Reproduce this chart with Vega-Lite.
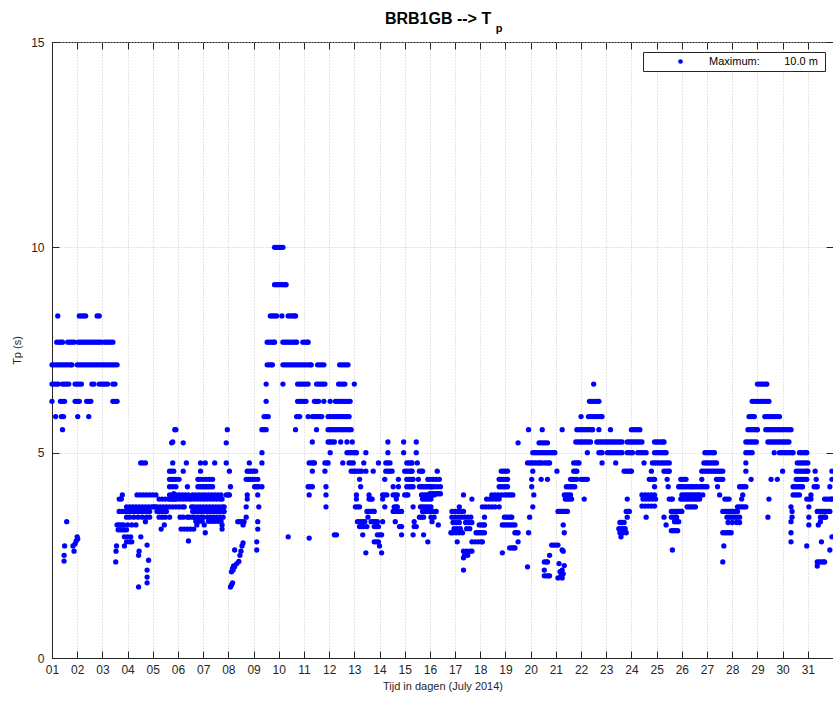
{
"$schema": "https://vega.github.io/schema/vega-lite/v6.json",
"width": 781, "height": 616,
"autosize": {"type": "none"},
"padding": {"left": 52, "top": 42, "right": 0, "bottom": 44},
"background": "white",
"config": {"view": {"stroke": "#262626", "strokeWidth": 1}, "font": "Liberation Sans"},
"title": {"text": "BRB1GB --> T\u00a0\u00a0\u200b", "subtitle": "\u200b\u00a0\u00a0\u00a0\u00a0\u00a0\u00a0\u00a0\u00a0\u00a0\u00a0\u00a0\u00a0\u00a0\u00a0\u00a0\u00a0\u00a0\u00a0\u00a0\u00a0\u00a0\u00a0\u00a0\u00a0\u00a0\u00a0\u00a0\u00a0\u00a0\u00a0\u00a0\u00a0\u00a0\u00a0\u00a0\u00a0\u00a0p", "font": "Liberation Sans", "fontSize": 16, "fontWeight": "bold", "color": "black", "subtitleFont": "Liberation Sans", "subtitleFontSize": 11, "subtitleFontWeight": "bold", "subtitleColor": "black", "subtitlePadding": -4, "offset": 2, "anchor": "middle"},
"data": {"values": [
{"h":5.5,"t":8.33},{"h":26,"t":8.33},{"h":28,"t":8.33},{"h":30,"t":8.33},{"h":32,"t":8.33},{"h":43,"t":8.33},{"h":45,"t":8.33},
{"h":4.5,"t":7.69},{"h":6.5,"t":7.69},{"h":8.5,"t":7.69},{"h":10,"t":7.69},{"h":15,"t":7.69},{"h":17,"t":7.69},{"h":19,"t":7.69},{"h":21,"t":7.69},{"h":25,"t":7.69},{"h":27,"t":7.69},{"h":29,"t":7.69},{"h":31,"t":7.69},{"h":33,"t":7.69},{"h":35,"t":7.69},{"h":37,"t":7.69},{"h":39,"t":7.69},{"h":41,"t":7.69},{"h":43,"t":7.69},{"h":45,"t":7.69},{"h":47,"t":7.69},{"h":50,"t":7.69},{"h":52,"t":7.69},{"h":54,"t":7.69},{"h":56,"t":7.69},{"h":58,"t":7.69},
{"h":0,"t":7.14},{"h":2,"t":7.14},{"h":4,"t":7.14},{"h":6,"t":7.14},{"h":8,"t":7.14},{"h":10,"t":7.14},{"h":12,"t":7.14},{"h":14,"t":7.14},{"h":16,"t":7.14},{"h":18,"t":7.14},{"h":19,"t":7.14},{"h":24,"t":7.14},{"h":26,"t":7.14},{"h":28,"t":7.14},{"h":30,"t":7.14},{"h":32,"t":7.14},{"h":34,"t":7.14},{"h":36,"t":7.14},{"h":38,"t":7.14},{"h":40,"t":7.14},{"h":42,"t":7.14},{"h":44,"t":7.14},{"h":46,"t":7.14},{"h":48,"t":7.14},{"h":50,"t":7.14},{"h":52,"t":7.14},{"h":54,"t":7.14},{"h":56,"t":7.14},{"h":58,"t":7.14},{"h":60,"t":7.14},{"h":62,"t":7.14},
{"h":0,"t":6.67},{"h":2,"t":6.67},{"h":4,"t":6.67},{"h":6,"t":6.67},{"h":10,"t":6.67},{"h":12,"t":6.67},{"h":14,"t":6.67},{"h":16,"t":6.67},{"h":22,"t":6.67},{"h":24,"t":6.67},{"h":26,"t":6.67},{"h":28,"t":6.67},{"h":38,"t":6.67},{"h":40,"t":6.67},{"h":45,"t":6.67},{"h":47,"t":6.67},{"h":49,"t":6.67},{"h":51,"t":6.67},{"h":53,"t":6.67},{"h":58,"t":6.67},{"h":60,"t":6.67},
{"h":0,"t":6.25},{"h":8,"t":6.25},{"h":10,"t":6.25},{"h":12,"t":6.25},{"h":22,"t":6.25},{"h":24,"t":6.25},{"h":26,"t":6.25},{"h":33,"t":6.25},{"h":35,"t":6.25},{"h":37,"t":6.25},{"h":58,"t":6.25},{"h":60,"t":6.25},{"h":62,"t":6.25},
{"h":3.5,"t":5.88},{"h":9,"t":5.88},{"h":11,"t":5.88},{"h":24.5,"t":5.88},{"h":35,"t":5.88},{"h":10,"t":5.56},
{"h":11.5,"t":2.36},{"h":11.5,"t":2.5},{"h":12,"t":2.73},{"h":14,"t":3.32},{"h":20,"t":2.73},{"h":21,"t":2.6},{"h":22,"t":2.78},{"h":23,"t":2.85},{"h":24,"t":2.95},{"h":24.5,"t":2.9},
{"h":60.7,"t":2.34},{"h":61,"t":2.6},{"h":61.5,"t":2.73},
{"h":62,"t":3.24},{"h":64,"t":3.24},{"h":66,"t":3.24},{"h":68,"t":3.24},{"h":72,"t":3.24},{"h":76,"t":3.24},{"h":80,"t":3.24},
{"h":63,"t":3.12},{"h":65,"t":3.12},{"h":67,"t":3.12},{"h":69,"t":3.12},{"h":71,"t":3.12},
{"h":64,"t":3.87},{"h":66,"t":3.87},
{"h":67,"t":3.97},{"h":81,"t":3.97},{"h":84,"t":3.97},{"h":87,"t":3.97},{"h":90,"t":3.97},{"h":93,"t":3.97},{"h":96,"t":3.97},{"h":99,"t":3.97},
{"h":64,"t":3.57},{"h":67,"t":3.57},{"h":70,"t":3.57},{"h":73,"t":3.57},{"h":76,"t":3.57},{"h":79,"t":3.57},{"h":82,"t":3.57},{"h":85,"t":3.57},{"h":88,"t":3.57},{"h":91,"t":3.57},{"h":93,"t":3.57},
{"h":71,"t":3.68},{"h":74,"t":3.68},{"h":77,"t":3.68},{"h":80,"t":3.68},{"h":83,"t":3.68},{"h":86,"t":3.68},{"h":89,"t":3.68},{"h":92,"t":3.68},{"h":95,"t":3.68},{"h":98,"t":3.68},
{"h":71,"t":3.43},{"h":74,"t":3.43},{"h":78,"t":3.43},{"h":82,"t":3.43},{"h":86,"t":3.43},{"h":90,"t":3.43},{"h":93,"t":3.43},
{"h":69,"t":2.95},{"h":72,"t":2.95},{"h":75,"t":2.95},{"h":84.6,"t":2.95},{"h":71,"t":2.83},{"h":74,"t":2.83},{"h":76,"t":2.83},{"h":69,"t":2.73},
{"h":83,"t":2.6},{"h":82.5,"t":2.5},{"h":82.5,"t":1.73},
{"h":84.5,"t":4.75},{"h":86.5,"t":4.75},{"h":89,"t":4.75},
{"h":89,"t":3.32},{"h":90.6,"t":2.75},{"h":92,"t":2.38},{"h":90.6,"t":2.14},{"h":90.6,"t":1.97},{"h":90.6,"t":1.83},
{"h":102,"t":3.87},{"h":105,"t":3.87},{"h":108,"t":3.87},{"h":111,"t":3.87},{"h":114,"t":3.87},{"h":117,"t":3.87},
{"h":97,"t":3.68},{"h":100,"t":3.68},{"h":103,"t":3.68},{"h":106,"t":3.68},{"h":109,"t":3.68},{"h":112,"t":3.68},{"h":115,"t":3.68},
{"h":100,"t":3.57},{"h":103,"t":3.57},{"h":106,"t":3.57},{"h":109,"t":3.57},
{"h":102,"t":3.43},{"h":105,"t":3.43},{"h":108,"t":3.43},
{"h":107,"t":3.24},{"h":104,"t":3.14},
{"h":112,"t":4.55},{"h":114,"t":4.55},{"h":116,"t":4.55},{"h":112,"t":4.35},{"h":114,"t":4.35},{"h":116,"t":4.35},
{"h":115,"t":4.17},{"h":116,"t":4.0},{"h":115,"t":4.75},{"h":115,"t":5.26},{"h":117,"t":5.56},
{"h":118,"t":5.56},{"h":114,"t":5.24},{"h":125,"t":5.24},{"h":128,"t":4.75},{"h":125,"t":4.55},
{"h":118,"t":4.35},{"h":121,"t":4.35},
{"h":112,"t":4.17},{"h":118,"t":4.17},{"h":129,"t":4.17},
{"h":112,"t":3.97},{"h":115,"t":3.97},{"h":118,"t":3.97},{"h":121,"t":3.97},{"h":124,"t":3.97},{"h":127,"t":3.97},{"h":130,"t":3.97},
{"h":113,"t":3.87},{"h":116,"t":3.87},{"h":119,"t":3.87},{"h":122,"t":3.87},{"h":125,"t":3.87},{"h":128,"t":3.87},{"h":131,"t":3.87},
{"h":118,"t":3.68},{"h":121,"t":3.68},{"h":124,"t":3.68},{"h":126,"t":3.68},
{"h":112,"t":3.43},{"h":122,"t":3.43},{"h":125,"t":3.43},{"h":129,"t":3.43},{"h":131,"t":3.43},{"h":134,"t":3.43},
{"h":123,"t":3.14},{"h":126,"t":3.14},{"h":129,"t":3.14},{"h":132,"t":3.14},{"h":135,"t":3.14},{"h":130,"t":2.85},
{"h":141.5,"t":4.75},{"h":146,"t":4.75},{"h":155,"t":4.75},{"h":141.5,"t":4.55},
{"h":139,"t":4.35},{"h":141,"t":4.35},{"h":144,"t":4.35},{"h":147,"t":4.35},{"h":150,"t":4.35},{"h":153,"t":4.35},
{"h":139,"t":4.17},{"h":141,"t":4.17},{"h":143,"t":4.17},{"h":145,"t":4.17},{"h":147,"t":4.17},{"h":149,"t":4.17},{"h":151,"t":4.17},{"h":153,"t":4.17},
{"h":134,"t":3.97},{"h":137,"t":3.97},{"h":140,"t":3.97},{"h":143,"t":3.97},{"h":146,"t":3.97},{"h":149,"t":3.97},{"h":152,"t":3.97},{"h":155,"t":3.97},{"h":158,"t":3.97},{"h":161,"t":3.97},
{"h":133,"t":3.87},{"h":136,"t":3.87},{"h":139,"t":3.87},{"h":142,"t":3.87},{"h":145,"t":3.87},{"h":148,"t":3.87},{"h":151,"t":3.87},{"h":154,"t":3.87},{"h":157,"t":3.87},{"h":160,"t":3.87},{"h":162,"t":3.87},
{"h":133,"t":3.68},{"h":135,"t":3.68},{"h":138,"t":3.68},{"h":141,"t":3.68},{"h":144,"t":3.68},{"h":147,"t":3.68},{"h":150,"t":3.68},{"h":153,"t":3.68},{"h":156,"t":3.68},{"h":159,"t":3.68},{"h":162,"t":3.68},{"h":164,"t":3.68},
{"h":134,"t":3.57},{"h":137,"t":3.57},{"h":140,"t":3.57},{"h":143,"t":3.57},{"h":146,"t":3.57},{"h":149,"t":3.57},{"h":152,"t":3.57},{"h":155,"t":3.57},{"h":158,"t":3.57},{"h":161,"t":3.57},{"h":164,"t":3.57},
{"h":136,"t":3.43},{"h":139,"t":3.43},{"h":142,"t":3.43},{"h":144,"t":3.43},{"h":148,"t":3.43},{"h":151,"t":3.43},{"h":154,"t":3.43},{"h":157,"t":3.43},{"h":160,"t":3.43},{"h":163,"t":3.43},
{"h":137,"t":3.33},{"h":140,"t":3.33},{"h":143,"t":3.33},{"h":149,"t":3.33},{"h":152,"t":3.33},{"h":155,"t":3.33},{"h":158,"t":3.33},{"h":161,"t":3.33},
{"h":138,"t":3.24},{"h":145,"t":3.24},{"h":162,"t":3.24},{"h":162,"t":3.14},{"h":146,"t":3.05},
{"h":167,"t":5.56},{"h":166,"t":5.24},{"h":166,"t":4.75},{"h":169,"t":4.55},{"h":170,"t":4.17},{"h":166,"t":3.97},{"h":168,"t":3.97},{"h":169,"t":3.97},
{"h":170,"t":1.73},{"h":171,"t":1.78},{"h":172,"t":1.83},{"h":171,"t":2.1},{"h":172,"t":2.18},{"h":172.5,"t":2.14},{"h":173,"t":2.24},{"h":174,"t":2.22},{"h":176,"t":2.3},{"h":178,"t":2.35},{"h":174,"t":2.63},{"h":179,"t":2.5},{"h":180,"t":2.6},{"h":181,"t":2.73},{"h":182,"t":2.8},
{"h":177,"t":3.32},{"h":179,"t":3.32},{"h":181,"t":3.32},{"h":183,"t":3.32},{"h":182,"t":3.24},
{"h":185,"t":3.43},{"h":185,"t":3.68},{"h":186,"t":3.87},{"h":186,"t":3.97},
{"h":185,"t":4.35},{"h":187,"t":4.35},{"h":189,"t":4.35},{"h":191,"t":4.35},{"h":193,"t":4.35},{"h":196,"t":4.35},
{"h":186,"t":4.55},{"h":188,"t":4.55},{"h":190,"t":4.55},{"h":192,"t":4.55},{"h":194,"t":4.55},{"h":188,"t":4.75},
{"h":193,"t":4.17},{"h":195,"t":4.17},{"h":197,"t":4.17},{"h":200,"t":4.17},
{"h":196,"t":3.97},{"h":197,"t":3.68},{"h":196,"t":3.32},{"h":196,"t":3.14},{"h":195,"t":2.83},{"h":195,"t":2.63},
{"h":200,"t":4.75},{"h":200,"t":5.0},{"h":200,"t":5.56},{"h":202,"t":5.56},{"h":204,"t":5.56},{"h":202,"t":5.88},{"h":204,"t":5.88},{"h":206,"t":5.88},{"h":204,"t":6.25},{"h":204,"t":6.67},
{"h":205,"t":7.14},{"h":207,"t":7.14},{"h":209,"t":7.14},{"h":210,"t":7.14},
{"h":205,"t":7.69},{"h":207,"t":7.69},{"h":209,"t":7.69},{"h":211,"t":7.69},{"h":212,"t":7.69},
{"h":208,"t":8.33},{"h":210,"t":8.33},{"h":212,"t":8.33},{"h":214,"t":8.33},
{"h":212,"t":9.09},{"h":214,"t":9.09},{"h":216,"t":9.09},{"h":218,"t":9.09},{"h":220,"t":9.09},{"h":222,"t":9.09},{"h":223,"t":9.09},
{"h":212,"t":10.0},{"h":214,"t":10.0},{"h":216,"t":10.0},{"h":218,"t":10.0},{"h":220,"t":10.0},
{"h":219,"t":8.33},{"h":225,"t":8.33},{"h":227,"t":8.33},{"h":229,"t":8.33},{"h":231,"t":8.33},{"h":232,"t":8.33},
{"h":220,"t":7.69},{"h":222,"t":7.69},{"h":224,"t":7.69},{"h":226,"t":7.69},{"h":228,"t":7.69},{"h":230,"t":7.69},{"h":232,"t":7.69},{"h":233,"t":7.69},{"h":239,"t":7.69},{"h":241,"t":7.69},{"h":243,"t":7.69},{"h":244,"t":7.69},
{"h":220,"t":7.14},{"h":222,"t":7.14},{"h":224,"t":7.14},{"h":226,"t":7.14},{"h":228,"t":7.14},{"h":230,"t":7.14},{"h":232,"t":7.14},{"h":234,"t":7.14},{"h":236,"t":7.14},{"h":238,"t":7.14},{"h":240,"t":7.14},{"h":242,"t":7.14},{"h":244,"t":7.14},{"h":246,"t":7.14},{"h":247,"t":7.14},
{"h":220,"t":6.67},{"h":234,"t":6.67},{"h":236,"t":6.67},{"h":238,"t":6.67},{"h":240,"t":6.67},{"h":242,"t":6.67},{"h":244,"t":6.67},
{"h":234,"t":6.25},{"h":236,"t":6.25},{"h":238,"t":6.25},{"h":240,"t":6.25},{"h":242,"t":6.25},
{"h":233,"t":5.88},{"h":235,"t":5.88},{"h":236,"t":5.88},{"h":232,"t":5.56},{"h":225,"t":2.95},
{"h":253,"t":7.14},{"h":255,"t":7.14},{"h":257,"t":7.14},{"h":259,"t":7.14},{"h":274,"t":7.14},{"h":276,"t":7.14},{"h":278,"t":7.14},{"h":280,"t":7.14},{"h":282,"t":7.14},
{"h":252,"t":6.67},{"h":254,"t":6.67},{"h":256,"t":6.67},{"h":258,"t":6.67},{"h":260,"t":6.67},{"h":273,"t":6.67},{"h":275,"t":6.67},{"h":277,"t":6.67},{"h":279,"t":6.67},{"h":288,"t":6.67},
{"h":250,"t":6.25},{"h":252,"t":6.25},{"h":254,"t":6.25},{"h":259,"t":6.25},{"h":265,"t":6.25},{"h":270,"t":6.25},{"h":272,"t":6.25},{"h":274,"t":6.25},{"h":276,"t":6.25},{"h":278,"t":6.25},{"h":280,"t":6.25},{"h":282,"t":6.25},{"h":284,"t":6.25},
{"h":244,"t":5.88},{"h":248,"t":5.88},{"h":250,"t":5.88},{"h":252,"t":5.88},{"h":254,"t":5.88},{"h":256,"t":5.88},{"h":257,"t":5.88},{"h":263,"t":5.88},{"h":265,"t":5.88},{"h":267,"t":5.88},{"h":269,"t":5.88},{"h":271,"t":5.88},{"h":273,"t":5.88},{"h":275,"t":5.88},{"h":277,"t":5.88},{"h":279,"t":5.88},{"h":281,"t":5.88},{"h":283,"t":5.88},
{"h":252,"t":5.56},{"h":263,"t":5.56},{"h":265,"t":5.56},{"h":267,"t":5.56},{"h":269,"t":5.56},{"h":271,"t":5.56},{"h":273,"t":5.56},{"h":275,"t":5.56},{"h":277,"t":5.56},{"h":279,"t":5.56},{"h":281,"t":5.56},{"h":283,"t":5.56},{"h":285,"t":5.56},
{"h":248,"t":5.26},{"h":263,"t":5.26},{"h":265,"t":5.26},{"h":267,"t":5.26},{"h":269,"t":5.26},{"h":275,"t":5.26},{"h":281,"t":5.26},{"h":286,"t":5.26},{"h":320,"t":5.26},{"h":335,"t":5.26},{"h":347,"t":5.26},
{"h":265,"t":5.0},{"h":281,"t":5.0},{"h":283,"t":5.0},{"h":285,"t":5.0},{"h":287,"t":5.0},{"h":289,"t":5.0},{"h":290,"t":5.0},{"h":299,"t":5.0},{"h":320,"t":5.0},{"h":335,"t":5.0},{"h":347,"t":5.0},
{"h":245,"t":4.75},{"h":247,"t":4.75},{"h":249,"t":4.75},{"h":250,"t":4.75},{"h":260,"t":4.75},{"h":262,"t":4.75},{"h":263,"t":4.75},{"h":277,"t":4.75},{"h":283,"t":4.75},{"h":285,"t":4.75},{"h":287,"t":4.75},{"h":297,"t":4.75},{"h":311,"t":4.75},{"h":318,"t":4.75},{"h":320,"t":4.75},{"h":322,"t":4.75},{"h":338,"t":4.75},{"h":340,"t":4.75},{"h":342,"t":4.75},{"h":343,"t":4.75},{"h":348,"t":4.75},
{"h":248,"t":4.55},{"h":260,"t":4.55},{"h":285,"t":4.55},{"h":287,"t":4.55},{"h":289,"t":4.55},{"h":291,"t":4.55},{"h":293,"t":4.55},{"h":295,"t":4.55},{"h":299,"t":4.55},{"h":306,"t":4.55},{"h":318,"t":4.55},{"h":320,"t":4.55},{"h":322,"t":4.55},{"h":324,"t":4.55},{"h":336,"t":4.55},{"h":338,"t":4.55},{"h":340,"t":4.55},{"h":342,"t":4.55},{"h":343,"t":4.55},{"h":350,"t":4.55},{"h":352,"t":4.55},{"h":353,"t":4.55},
{"h":293,"t":4.35},{"h":317,"t":4.35},{"h":330,"t":4.35},{"h":338,"t":4.35},{"h":340,"t":4.35},{"h":342,"t":4.35},{"h":344,"t":4.35},{"h":349,"t":4.35},{"h":358,"t":4.35},
{"h":244,"t":4.17},{"h":246,"t":4.17},{"h":248,"t":4.17},{"h":261,"t":4.17},{"h":294,"t":4.17},{"h":325,"t":4.17},{"h":330,"t":4.17},{"h":338,"t":4.17},{"h":340,"t":4.17},{"h":342,"t":4.17},{"h":344,"t":4.17},{"h":350,"t":4.17},{"h":352,"t":4.17},{"h":354,"t":4.17},{"h":356,"t":4.17},{"h":358,"t":4.17},{"h":360,"t":4.17},{"h":362,"t":4.17},
{"h":245,"t":3.97},{"h":261,"t":3.97},{"h":290,"t":3.97},{"h":302,"t":3.97},{"h":315,"t":3.97},{"h":317,"t":3.97},{"h":319,"t":3.97},{"h":325,"t":3.97},{"h":327,"t":3.97},{"h":329,"t":3.97},{"h":336,"t":3.97},{"h":338,"t":3.97},{"h":339,"t":3.97},{"h":352,"t":3.97},{"h":354,"t":3.97},{"h":356,"t":3.97},{"h":358,"t":3.97},{"h":360,"t":3.97},{"h":362,"t":3.97},{"h":364,"t":3.97},
{"h":290,"t":3.87},{"h":302,"t":3.87},{"h":304,"t":3.87},{"h":305,"t":3.87},{"h":315,"t":3.87},{"h":328,"t":3.87},{"h":353,"t":3.87},{"h":355,"t":3.87},{"h":357,"t":3.87},{"h":359,"t":3.87},{"h":361,"t":3.87},
{"h":261,"t":3.68},{"h":289,"t":3.68},{"h":291,"t":3.68},{"h":293,"t":3.68},{"h":317,"t":3.68},{"h":326,"t":3.68},{"h":328,"t":3.68},{"h":329,"t":3.68},{"h":344,"t":3.68},{"h":351,"t":3.68},{"h":353,"t":3.68},{"h":355,"t":3.68},{"h":357,"t":3.68},{"h":359,"t":3.68},{"h":361,"t":3.68},
{"h":300,"t":3.57},{"h":302,"t":3.57},{"h":304,"t":3.57},{"h":306,"t":3.57},{"h":307,"t":3.57},{"h":325,"t":3.57},{"h":327,"t":3.57},{"h":329,"t":3.57},{"h":331,"t":3.57},{"h":333,"t":3.57},{"h":353,"t":3.57},{"h":355,"t":3.57},{"h":357,"t":3.57},
{"h":301,"t":3.43},{"h":350,"t":3.43},{"h":352,"t":3.43},{"h":354,"t":3.43},
{"h":291,"t":3.32},{"h":293,"t":3.32},{"h":295,"t":3.32},{"h":297,"t":3.32},{"h":298,"t":3.32},{"h":304,"t":3.32},{"h":306,"t":3.32},{"h":308,"t":3.32},{"h":310,"t":3.32},{"h":315,"t":3.32},{"h":327,"t":3.32},{"h":345,"t":3.32},{"h":362,"t":3.32},
{"h":293,"t":3.2},{"h":295,"t":3.2},{"h":297,"t":3.2},{"h":300,"t":3.2},{"h":307,"t":3.2},{"h":309,"t":3.2},{"h":311,"t":3.2},{"h":331,"t":3.2},{"h":333,"t":3.2},{"h":345,"t":3.2},{"h":347,"t":3.2},
{"h":269,"t":3.0},{"h":271,"t":3.0},{"h":296,"t":3.0},{"h":310,"t":3.0},{"h":312,"t":3.0},{"h":314,"t":3.0},{"h":333,"t":3.0},{"h":344,"t":3.0},{"h":354,"t":3.0},
{"h":245,"t":2.92},{"h":307,"t":2.83},{"h":309,"t":2.83},{"h":311,"t":2.83},{"h":358,"t":2.83},{"h":312,"t":2.73},{"h":299,"t":2.56},{"h":314,"t":2.56},
{"h":360,"t":4.35},{"h":363,"t":4.35},{"h":366,"t":4.35},{"h":369,"t":4.35},
{"h":361,"t":4.17},{"h":364,"t":4.17},{"h":367,"t":4.17},{"h":370,"t":4.17},
{"h":360,"t":4.0},{"h":362,"t":4.0},{"h":364,"t":4.0},{"h":366,"t":4.0},{"h":368,"t":4.0},{"h":370,"t":4.0},
{"h":367,"t":4.55},{"h":360,"t":3.57},{"h":363,"t":3.57},{"h":366,"t":3.57},{"h":361,"t":3.43},{"h":364,"t":3.43},{"h":368,"t":3.24},
{"h":392,"t":3.97},{"h":400,"t":3.87},{"h":388,"t":3.68},
{"h":381,"t":3.57},{"h":384,"t":3.57},{"h":387,"t":3.57},{"h":390,"t":3.57},{"h":392,"t":3.57},
{"h":381,"t":3.43},{"h":384,"t":3.43},{"h":387,"t":3.43},{"h":390,"t":3.43},{"h":393,"t":3.43},{"h":396,"t":3.43},{"h":399,"t":3.43},
{"h":382,"t":3.3},{"h":385,"t":3.3},{"h":388,"t":3.3},{"h":394,"t":3.3},{"h":397,"t":3.3},{"h":400,"t":3.3},
{"h":383,"t":3.15},{"h":386,"t":3.15},{"h":389,"t":3.15},{"h":395,"t":3.15},{"h":398,"t":3.15},
{"h":380,"t":3.05},{"h":382,"t":3.05},{"h":385,"t":3.05},{"h":388,"t":3.05},{"h":391,"t":3.05},{"h":404,"t":3.05},{"h":406,"t":3.05},{"h":408,"t":3.05},{"h":410,"t":3.05},{"h":412,"t":3.05},
{"h":386,"t":2.83},{"h":400,"t":2.83},{"h":403,"t":2.83},{"h":406,"t":2.83},{"h":409,"t":2.83},{"h":410,"t":2.83},{"h":444,"t":2.83},
{"h":392,"t":2.6},{"h":395,"t":2.6},{"h":398,"t":2.6},{"h":400,"t":2.6},{"h":393,"t":2.5},{"h":396,"t":2.5},{"h":392,"t":2.44},{"h":392,"t":2.14},
{"h":407,"t":3.24},{"h":409,"t":3.24},{"h":411,"t":3.24},{"h":412,"t":3.24},{"h":429,"t":3.24},{"h":431,"t":3.24},{"h":433,"t":3.24},{"h":435,"t":3.24},{"h":437,"t":3.24},{"h":439,"t":3.24},{"h":441,"t":3.24},
{"h":412,"t":3.43},{"h":431,"t":3.43},{"h":433,"t":3.43},{"h":435,"t":3.43},{"h":437,"t":3.43},{"h":438,"t":3.43},
{"h":410,"t":3.68},{"h":413,"t":3.68},{"h":416,"t":3.68},{"h":419,"t":3.68},{"h":422,"t":3.68},{"h":426,"t":3.68},
{"h":414,"t":3.87},{"h":417,"t":3.87},{"h":420,"t":3.87},{"h":423,"t":3.87},{"h":426,"t":3.87},
{"h":419,"t":3.97},{"h":422,"t":3.97},{"h":425,"t":3.97},{"h":428,"t":3.97},{"h":431,"t":3.97},{"h":433,"t":3.97},{"h":435,"t":3.97},{"h":437,"t":3.97},{"h":439,"t":3.97},
{"h":428,"t":4.55},{"h":430,"t":4.55},{"h":432,"t":4.55},{"h":434,"t":4.55},
{"h":426,"t":4.35},{"h":428,"t":4.35},{"h":430,"t":4.35},{"h":432,"t":4.35},{"h":434,"t":4.35},
{"h":426,"t":4.17},{"h":428,"t":4.17},{"h":430,"t":4.17},{"h":432,"t":4.17},{"h":434,"t":4.17},
{"h":441,"t":3.05},{"h":443,"t":3.05},{"h":444,"t":3.05},
{"h":436,"t":2.68},{"h":438,"t":2.68},{"h":440,"t":2.68},{"h":441,"t":2.68},{"h":429,"t":2.56},{"h":444,"t":5.24},
{"h":454,"t":5.56},{"h":458,"t":4.55},{"h":457,"t":4.35},{"h":457,"t":4.17},{"h":459,"t":3.97},{"h":458,"t":3.68},{"h":455,"t":3.43},{"h":454,"t":3.05},{"h":453,"t":2.22},
{"h":467,"t":5.56},{"h":464,"t":5.24},{"h":466,"t":5.24},{"h":468,"t":5.24},{"h":470,"t":5.24},{"h":472,"t":5.24},
{"h":458,"t":5.0},{"h":460,"t":5.0},{"h":462,"t":5.0},{"h":464,"t":5.0},{"h":466,"t":5.0},{"h":468,"t":5.0},{"h":470,"t":5.0},{"h":472,"t":5.0},{"h":474,"t":5.0},{"h":476,"t":5.0},{"h":478,"t":5.0},{"h":479,"t":5.0},
{"h":453,"t":4.75},{"h":455,"t":4.75},{"h":457,"t":4.75},{"h":459,"t":4.75},{"h":461,"t":4.75},{"h":463,"t":4.75},{"h":465,"t":4.75},{"h":466,"t":4.75},{"h":469,"t":4.75},{"h":471,"t":4.75},{"h":473,"t":4.75},{"h":474,"t":4.75},
{"h":466,"t":4.35},{"h":472,"t":4.35},
{"h":476,"t":2.75},{"h":478,"t":2.75},{"h":480,"t":2.75},{"h":482,"t":2.75},{"h":474,"t":2.5},{"h":469,"t":2.34},{"h":471,"t":2.34},{"h":472,"t":2.34},{"h":469,"t":2.14},
{"h":469,"t":2.0},{"h":471,"t":2.0},{"h":473,"t":2.0},{"h":474,"t":2.0},{"h":482,"t":1.95},{"h":486,"t":2.63},{"h":486,"t":2.14},
{"h":486,"t":5.56},{"h":481,"t":4.55},{"h":482,"t":3.57},{"h":484,"t":3.57},{"h":486,"t":3.57},{"h":488,"t":3.57},
{"h":483,"t":2.3},{"h":484,"t":2.1},{"h":485,"t":2.0},{"h":486,"t":1.95},{"h":487,"t":2.05},{"h":488,"t":2.25},
{"h":487,"t":3.24},{"h":488,"t":3.05},{"h":487,"t":2.6},
{"h":489,"t":3.57},{"h":491,"t":3.57},
{"h":489,"t":3.87},{"h":491,"t":3.87},{"h":493,"t":3.87},{"h":495,"t":3.87},{"h":507,"t":3.87},
{"h":488,"t":3.97},{"h":490,"t":3.97},{"h":492,"t":3.97},{"h":494,"t":3.97},
{"h":490,"t":4.17},{"h":492,"t":4.17},{"h":494,"t":4.17},{"h":496,"t":4.17},{"h":498,"t":4.17},
{"h":494,"t":4.35},{"h":496,"t":4.35},{"h":498,"t":4.35},{"h":500,"t":4.35},{"h":504,"t":4.35},{"h":506,"t":4.35},{"h":508,"t":4.35},{"h":510,"t":4.35},
{"h":497,"t":4.55},{"h":499,"t":4.55},{"h":500,"t":4.55},
{"h":497,"t":4.75},{"h":499,"t":4.75},{"h":501,"t":4.75},{"h":502,"t":4.75},{"h":524,"t":4.75},{"h":537,"t":4.75},
{"h":499,"t":5.26},{"h":501,"t":5.26},{"h":503,"t":5.26},{"h":505,"t":5.26},{"h":507,"t":5.26},{"h":509,"t":5.26},{"h":511,"t":5.26},{"h":513,"t":5.26},{"h":519,"t":5.26},{"h":521,"t":5.26},{"h":523,"t":5.26},{"h":525,"t":5.26},{"h":527,"t":5.26},{"h":529,"t":5.26},{"h":531,"t":5.26},{"h":533,"t":5.26},{"h":535,"t":5.26},{"h":537,"t":5.26},{"h":539,"t":5.26},{"h":541,"t":5.26},{"h":543,"t":5.26},{"h":548,"t":5.26},{"h":550,"t":5.26},{"h":552,"t":5.26},{"h":554,"t":5.26},{"h":556,"t":5.26},{"h":558,"t":5.26},{"h":560,"t":5.26},{"h":562,"t":5.26},
{"h":510,"t":5.0},{"h":521,"t":5.0},{"h":523,"t":5.0},{"h":524,"t":5.0},{"h":529,"t":5.0},{"h":531,"t":5.0},{"h":533,"t":5.0},{"h":535,"t":5.0},{"h":537,"t":5.0},{"h":539,"t":5.0},{"h":541,"t":5.0},{"h":543,"t":5.0},{"h":548,"t":5.0},{"h":550,"t":5.0},{"h":552,"t":5.0},{"h":553,"t":5.0},{"h":558,"t":5.0},{"h":560,"t":5.0},{"h":562,"t":5.0},{"h":564,"t":5.0},{"h":566,"t":5.0},
{"h":500,"t":5.56},{"h":502,"t":5.56},{"h":504,"t":5.56},{"h":506,"t":5.56},{"h":508,"t":5.56},{"h":510,"t":5.56},{"h":512,"t":5.56},{"h":514,"t":5.56},{"h":515,"t":5.56},{"h":521,"t":5.56},{"h":532,"t":5.56},{"h":552,"t":5.56},{"h":554,"t":5.56},{"h":556,"t":5.56},{"h":558,"t":5.56},{"h":560,"t":5.56},
{"h":504,"t":5.88},{"h":511,"t":5.88},{"h":513,"t":5.88},{"h":515,"t":5.88},{"h":517,"t":5.88},{"h":519,"t":5.88},{"h":521,"t":5.88},{"h":523,"t":5.88},{"h":524,"t":5.88},
{"h":512,"t":6.25},{"h":514,"t":6.25},{"h":516,"t":6.25},{"h":518,"t":6.25},{"h":520,"t":6.25},{"h":521,"t":6.25},{"h":516,"t":6.67},
{"h":545,"t":4.55},{"h":547,"t":4.55},{"h":549,"t":4.55},{"h":551,"t":4.55},{"h":552,"t":4.55},{"h":548,"t":3.87},{"h":547,"t":3.57},{"h":549,"t":3.57},{"h":550,"t":3.57},{"h":548,"t":3.43},
{"h":541,"t":3.3},{"h":543,"t":3.3},{"h":545,"t":3.3},{"h":540,"t":3.15},{"h":542,"t":3.15},{"h":544,"t":3.15},{"h":546,"t":3.15},{"h":541,"t":3.05},{"h":544,"t":3.05},{"h":547,"t":3.05},{"h":542,"t":2.95},
{"h":564,"t":4.75},{"h":571,"t":4.55},{"h":569,"t":4.35},{"h":571,"t":4.35},{"h":573,"t":4.35},{"h":574,"t":4.35},{"h":574,"t":4.17},
{"h":562,"t":3.97},{"h":565,"t":3.97},{"h":568,"t":3.97},{"h":571,"t":3.97},{"h":574,"t":3.97},
{"h":563,"t":3.87},{"h":566,"t":3.87},{"h":569,"t":3.87},{"h":572,"t":3.87},{"h":575,"t":3.87},
{"h":562,"t":3.7},{"h":565,"t":3.7},{"h":568,"t":3.7},{"h":571,"t":3.7},{"h":574,"t":3.7},{"h":566,"t":3.43},
{"h":574,"t":5.26},{"h":576,"t":5.26},{"h":578,"t":5.26},{"h":580,"t":5.26},{"h":582,"t":5.26},{"h":583,"t":5.26},
{"h":574,"t":5.0},{"h":576,"t":5.0},{"h":578,"t":5.0},{"h":580,"t":5.0},{"h":582,"t":5.0},{"h":584,"t":5.0},{"h":585,"t":5.0},
{"h":572,"t":4.75},{"h":574,"t":4.75},{"h":576,"t":4.75},{"h":578,"t":4.75},{"h":580,"t":4.75},{"h":582,"t":4.75},{"h":584,"t":4.75},{"h":586,"t":4.75},{"h":588,"t":4.75},
{"h":583,"t":4.55},{"h":585,"t":4.55},{"h":587,"t":4.55},{"h":588,"t":4.55},{"h":586,"t":4.35},{"h":587,"t":4.17},
{"h":588,"t":3.87},{"h":590,"t":3.87},{"h":591,"t":3.87},{"h":583,"t":3.43},{"h":585,"t":3.24},
{"h":590,"t":3.57},{"h":592,"t":3.57},{"h":594,"t":3.57},{"h":596,"t":3.57},{"h":597,"t":3.57},{"h":599,"t":3.57},{"h":600,"t":3.57},
{"h":590,"t":3.43},{"h":592,"t":3.43},{"h":594,"t":3.43},{"h":595,"t":3.43},{"h":593,"t":3.32},{"h":595,"t":3.32},{"h":597,"t":3.32},
{"h":590,"t":3.1},{"h":592,"t":3.1},{"h":594,"t":3.1},{"h":596,"t":3.1},{"h":591,"t":2.63},
{"h":599,"t":4.35},{"h":601,"t":4.35},{"h":603,"t":4.35},{"h":604,"t":4.35},
{"h":597,"t":4.17},{"h":599,"t":4.17},{"h":601,"t":4.17},{"h":603,"t":4.17},{"h":605,"t":4.17},{"h":607,"t":4.17},{"h":609,"t":4.17},{"h":610,"t":4.17},
{"h":600,"t":3.97},{"h":602,"t":3.97},{"h":604,"t":3.97},{"h":606,"t":3.97},{"h":608,"t":3.97},{"h":610,"t":3.97},{"h":612,"t":3.97},
{"h":599,"t":3.87},{"h":601,"t":3.87},{"h":603,"t":3.87},{"h":605,"t":3.87},{"h":607,"t":3.87},{"h":609,"t":3.87},{"h":611,"t":3.87},
{"h":605,"t":3.68},{"h":607,"t":3.68},{"h":609,"t":3.68},{"h":611,"t":3.68},
{"h":612,"t":4.17},{"h":614,"t":4.17},{"h":616,"t":4.17},{"h":618,"t":4.17},{"h":620,"t":4.17},{"h":622,"t":4.17},{"h":624,"t":4.17},{"h":634,"t":4.17},{"h":655,"t":4.17},{"h":657,"t":4.17},{"h":659,"t":4.17},{"h":661,"t":4.17},
{"h":614,"t":3.97},{"h":616,"t":3.97},{"h":617,"t":3.97},{"h":620,"t":3.97},{"h":636,"t":3.97},{"h":658,"t":3.97},
{"h":613,"t":3.87},{"h":615,"t":3.87},{"h":617,"t":3.87},{"h":641,"t":3.87},{"h":643,"t":3.87},{"h":645,"t":3.87},{"h":657,"t":3.87},
{"h":613,"t":3.68},{"h":653,"t":3.68},{"h":655,"t":3.68},{"h":657,"t":3.68},{"h":659,"t":3.68},{"h":661,"t":3.68},
{"h":619,"t":4.35},{"h":633,"t":4.35},{"h":635,"t":4.35},{"h":637,"t":4.35},{"h":639,"t":4.35},{"h":666,"t":4.35},
{"h":622,"t":5.0},{"h":624,"t":5.0},{"h":626,"t":5.0},{"h":628,"t":5.0},{"h":630,"t":5.0},{"h":631,"t":5.0},{"h":661,"t":5.0},{"h":663,"t":5.0},{"h":665,"t":5.0},{"h":667,"t":5.0},
{"h":621,"t":4.75},{"h":623,"t":4.75},{"h":625,"t":4.75},{"h":627,"t":4.75},{"h":629,"t":4.75},{"h":631,"t":4.75},{"h":633,"t":4.75},{"h":661,"t":4.75},
{"h":619,"t":4.55},{"h":621,"t":4.55},{"h":623,"t":4.55},{"h":625,"t":4.55},{"h":627,"t":4.55},{"h":629,"t":4.55},{"h":631,"t":4.55},{"h":633,"t":4.55},{"h":635,"t":4.55},{"h":637,"t":4.55},{"h":639,"t":4.55},{"h":661,"t":4.55},
{"h":639,"t":3.57},{"h":641,"t":3.57},{"h":643,"t":3.57},{"h":645,"t":3.57},{"h":647,"t":3.57},{"h":649,"t":3.57},{"h":651,"t":3.57},{"h":653,"t":3.57},
{"h":643,"t":3.43},{"h":645,"t":3.43},{"h":647,"t":3.43},{"h":649,"t":3.43},{"h":651,"t":3.43},{"h":653,"t":3.43},{"h":655,"t":3.43},
{"h":644,"t":3.3},{"h":648,"t":3.3},{"h":652,"t":3.3},{"h":655,"t":3.3},
{"h":639,"t":3.05},{"h":641,"t":3.05},{"h":643,"t":3.05},{"h":645,"t":3.05},{"h":647,"t":3.05},{"h":640,"t":2.73},{"h":639,"t":2.34},
{"h":661,"t":5.26},{"h":663,"t":5.26},{"h":665,"t":5.26},{"h":667,"t":5.26},{"h":669,"t":5.26},{"h":671,"t":5.26},
{"h":663,"t":5.56},{"h":665,"t":5.56},{"h":667,"t":5.56},{"h":669,"t":5.56},{"h":671,"t":5.56},{"h":672,"t":5.56},
{"h":664,"t":5.88},{"h":666,"t":5.88},{"h":668,"t":5.88},{"h":669,"t":5.88},
{"h":667,"t":6.25},{"h":669,"t":6.25},{"h":671,"t":6.25},{"h":673,"t":6.25},{"h":675,"t":6.25},{"h":677,"t":6.25},{"h":679,"t":6.25},{"h":681,"t":6.25},{"h":683,"t":6.25},
{"h":672,"t":6.67},{"h":674,"t":6.67},{"h":676,"t":6.67},{"h":678,"t":6.67},{"h":680,"t":6.67},{"h":681,"t":6.67},
{"h":679,"t":5.88},{"h":681,"t":5.88},{"h":683,"t":5.88},{"h":685,"t":5.88},{"h":687,"t":5.88},{"h":689,"t":5.88},{"h":691,"t":5.88},{"h":693,"t":5.88},
{"h":680,"t":5.56},{"h":682,"t":5.56},{"h":684,"t":5.56},{"h":686,"t":5.56},{"h":688,"t":5.56},{"h":690,"t":5.56},{"h":692,"t":5.56},{"h":694,"t":5.56},{"h":696,"t":5.56},{"h":698,"t":5.56},{"h":700,"t":5.56},{"h":702,"t":5.56},{"h":704,"t":5.56},
{"h":682,"t":5.26},{"h":684,"t":5.26},{"h":686,"t":5.26},{"h":688,"t":5.26},{"h":690,"t":5.26},{"h":692,"t":5.26},{"h":694,"t":5.26},{"h":696,"t":5.26},{"h":698,"t":5.26},{"h":700,"t":5.26},{"h":702,"t":5.26},
{"h":688,"t":5.0},{"h":693,"t":5.0},{"h":695,"t":5.0},{"h":697,"t":5.0},{"h":699,"t":5.0},{"h":701,"t":5.0},{"h":703,"t":5.0},{"h":705,"t":5.0},{"h":706,"t":5.0},
{"h":696,"t":4.55},{"h":685,"t":4.35},{"h":691,"t":4.35},{"h":683,"t":3.87},{"h":682,"t":3.43},
{"h":712,"t":5.0},{"h":714,"t":5.0},{"h":716,"t":5.0},{"h":718,"t":5.0},{"h":719,"t":5.0},
{"h":710,"t":4.75},{"h":712,"t":4.75},{"h":714,"t":4.75},{"h":716,"t":4.75},{"h":718,"t":4.75},{"h":720,"t":4.75},
{"h":709,"t":4.55},{"h":711,"t":4.55},{"h":713,"t":4.55},{"h":715,"t":4.55},{"h":717,"t":4.55},{"h":719,"t":4.55},{"h":720,"t":4.55},
{"h":709,"t":4.35},{"h":711,"t":4.35},{"h":713,"t":4.35},{"h":715,"t":4.35},{"h":717,"t":4.35},{"h":719,"t":4.35},
{"h":706,"t":4.17},{"h":708,"t":4.17},{"h":710,"t":4.17},{"h":712,"t":4.17},{"h":714,"t":4.17},{"h":715,"t":4.17},
{"h":706,"t":3.97},{"h":708,"t":3.97},{"h":710,"t":3.97},{"h":712,"t":3.97},
{"h":704,"t":3.68},{"h":705,"t":3.57},{"h":705,"t":3.43},{"h":704,"t":3.32},{"h":704,"t":3.05},{"h":704,"t":2.83},
{"h":727,"t":4.55},{"h":743,"t":4.55},{"h":728,"t":4.35},{"h":743,"t":4.35},{"h":726,"t":4.17},{"h":728,"t":4.17},{"h":729,"t":4.17},{"h":741,"t":4.17},
{"h":723,"t":3.97},{"h":719,"t":3.87},{"h":721,"t":3.87},{"h":723,"t":3.87},{"h":736,"t":3.87},{"h":738,"t":3.87},{"h":740,"t":3.87},{"h":742,"t":3.87},{"h":743,"t":3.87},
{"h":721,"t":3.68},{"h":729,"t":3.57},{"h":731,"t":3.57},{"h":733,"t":3.57},{"h":735,"t":3.57},{"h":737,"t":3.57},{"h":739,"t":3.57},{"h":741,"t":3.57},
{"h":721,"t":3.43},{"h":732,"t":3.43},{"h":734,"t":3.43},{"h":736,"t":3.43},{"h":737,"t":3.43},
{"h":732,"t":3.32},{"h":721,"t":3.24},{"h":730,"t":3.24},
{"h":743,"t":2.95},{"h":733,"t":2.83},{"h":719,"t":2.73},{"h":741,"t":2.63},
{"h":729,"t":2.34},{"h":731,"t":2.34},{"h":733,"t":2.34},{"h":735,"t":2.34},{"h":736,"t":2.34},{"h":729,"t":2.24}
]},
"layer": [
{"mark": {"type": "point", "filled": true, "size": 28, "opacity": 1, "strokeWidth": 0},
 "encoding": {
  "x": {"field": "h", "type": "quantitative", "scale": {"domain": [0, 744], "nice": false, "zero": false},
   "axis": {"values": [0,24,48,72,96,120,144,168,192,216,240,264,288,312,336,360,384,408,432,456,480,504,528,552,576,600,624,648,672,696,720],
    "labelExpr": "format(datum.value/24+1, '02d')", "title": "Tijd in dagen (July 2014)",
    "grid": true, "gridDash": [1, 2], "gridColor": "#c8c8c8", "gridOpacity": 1,
    "tickSize": -7, "tickColor": "#262626", "domainColor": "#262626", "labelPadding": 13,
    "labelFontSize": 12, "labelFont": "Liberation Sans", "labelColor": "#262626", "labelFlush": false, "labelOverlap": false,
    "titleFont": "Liberation Sans", "titleFontSize": 11, "titleFontWeight": "normal", "titleColor": "#262626", "titlePadding": 5}},
  "y": {"field": "t", "type": "quantitative", "scale": {"domain": [0, 15], "nice": false, "zero": true},
   "axis": {"values": [0, 5, 10, 15], "title": "Tp (s)", "grid": true, "gridDash": [1, 2], "gridColor": "#c8c8c8", "gridOpacity": 1,
    "tickSize": -7, "tickColor": "#262626", "domainColor": "#262626", "labelPadding": 15,
    "labelFontSize": 12, "labelFont": "Liberation Sans", "labelColor": "#262626", "labelFlush": false,
    "titleFont": "Liberation Sans", "titleFontSize": 11, "titleFontWeight": "normal", "titleColor": "#262626", "titlePadding": 8}},
  "color": {"datum": "Maximum:\u00a0\u00a0\u00a0\u00a0\u00a0\u00a0\u00a0\u00a010.0\u00a0m\u00a0\u200b", "type": "nominal", "scale": {"range": ["#0000ff"]},
   "legend": {"orient": "none", "legendX": 591, "legendY": 10, "title": null, "padding": 4, "strokeColor": "#262626", "fillColor": "white",
    "symbolType": "circle", "symbolSize": 22, "symbolFillColor": "#0000ff", "symbolStrokeWidth": 0, "symbolOffset": 28, "labelOffset": 23,
    "labelFontSize": 11, "labelFont": "Liberation Sans", "labelColor": "black", "labelLimit": 300, "cornerRadius": 0}}
 }},
{"mark": {"type": "point", "opacity": 0},
 "encoding": {
  "x": {"field": "h", "type": "quantitative", "axis": {"orient": "top", "values": [0,24,48,72,96,120,144,168,192,216,240,264,288,312,336,360,384,408,432,456,480,504,528,552,576,600,624,648,672,696,720], "labels": false, "title": null, "grid": false, "domain": false, "tickSize": -7, "tickColor": "#262626"}},
  "y": {"field": "t", "type": "quantitative", "axis": {"orient": "right", "values": [0, 5, 10, 15], "labels": false, "title": null, "grid": false, "domain": false, "tickSize": -7, "tickColor": "#262626"}}
 }}
],
"resolve": {"axis": {"x": "independent", "y": "independent"}}
}
